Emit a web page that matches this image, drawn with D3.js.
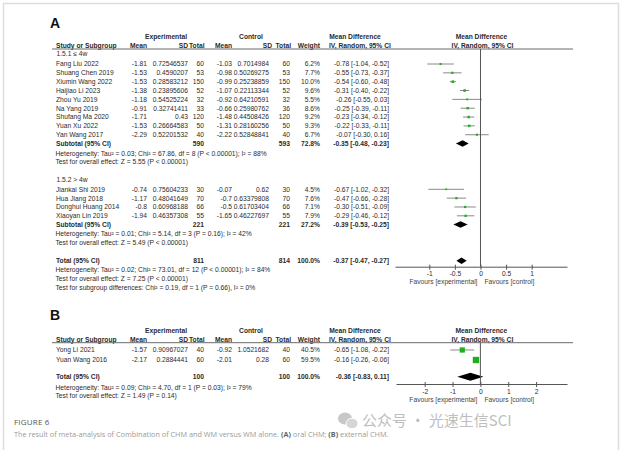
<!DOCTYPE html>
<html><head><meta charset="utf-8">
<script src="https://cdn.jsdelivr.net/npm/d3@7"></script>
<style>
html,body{margin:0;padding:0;background:#fff;}
svg{display:block;}
</style></head><body>
<svg id="chart" width="622" height="450"></svg>
<script>
// ---------- DATA ----------
// Panel A, subgroup 1.5.1
const a1Names = ["Fang Liu 2022","Shuang Chen 2019","Xiumin Wang 2022","Haijiao Li 2023","Zhou Yu 2019","Na Yang 2019","Shufang Ma 2020","Yuan Xu 2022","Yan Wang 2017"];
const a1ExpMean = [-1.81,-1.53,-1.53,-1.38,-1.18,-0.91,-1.71,-1.53,-2.29];
const a1ExpSD = [0.72546537,0.4590207,0.28583212,0.23895606,0.54525224,0.32741411,0.43,0.26664583,0.52201532];
const a1ExpN = [60,53,150,52,32,33,120,50,40];
const a1CtrlMean = [-1.03,-0.98,-0.99,-1.07,-0.92,-0.66,-1.48,-1.31,-2.22];
const a1CtrlSD = [0.7014984,0.50269275,0.25238859,0.22113344,0.64210591,0.25980762,0.44508426,0.28160256,0.52848841];
const a1CtrlN = [60,53,150,52,32,36,120,50,40];
const a1Weight = [6.2,7.7,10.0,9.6,5.5,8.6,9.2,9.3,6.7];
const a1MD = [-0.78,-0.55,-0.54,-0.31,-0.26,-0.25,-0.23,-0.22,-0.07];
const a1Lo = [-1.04,-0.73,-0.60,-0.40,-0.55,-0.39,-0.34,-0.33,-0.30];
const a1Hi = [-0.52,-0.37,-0.48,-0.22,0.03,-0.11,-0.12,-0.11,0.16];
// Panel A, subgroup 1.5.2
const a2Names = ["Jiankai Shi 2019","Hua Jiang 2018","Donghui Huang 2014","Xiaoyan Lin 2019"];
const a2ExpMean = [-0.74,-1.17,-0.8,-1.94];
const a2ExpSD = [0.75604233,0.48041649,0.60968188,0.46357308];
const a2ExpN = [30,70,66,55];
const a2CtrlMean = [-0.07,-0.7,-0.5,-1.65];
const a2CtrlSD = [0.62,0.63379808,0.61703404,0.46227697];
const a2CtrlN = [30,70,66,55];
const a2Weight = [4.5,7.6,7.1,7.9];
const a2MD = [-0.67,-0.47,-0.30,-0.29];
const a2Lo = [-1.02,-0.66,-0.51,-0.46];
const a2Hi = [-0.32,-0.28,-0.09,-0.12];
// Panel A subgroup summaries
const aSubLabels = ["1.5.1 \u2264 4w","1.5.2 > 4w"];
const aSubExpN = [590,221];
const aSubCtrlN = [593,221];
const aSubWeight = [72.8,27.2];
const aSubMD = [-0.35,-0.39];
const aSubLo = [-0.48,-0.53];
const aSubHi = [-0.23,-0.25];
const aSubHet = ["Heterogeneity: Tau\u00b2 = 0.03; Chi\u00b2 = 67.86, df = 8 (P < 0.00001); I\u00b2 = 88%",
                 "Heterogeneity: Tau\u00b2 = 0.01; Chi\u00b2 = 5.14, df = 3 (P = 0.16); I\u00b2 = 42%"];
const aSubTest = ["Test for overall effect: Z = 5.55 (P < 0.00001)","Test for overall effect: Z = 5.49 (P < 0.00001)"];
// Panel A total
const aTotal = [811,814,100.0,-0.37,-0.47,-0.27];
const aTotalNotes = ["Heterogeneity: Tau\u00b2 = 0.02; Chi\u00b2 = 73.01, df = 12 (P < 0.00001); I\u00b2 = 84%",
                     "Test for overall effect: Z = 7.25 (P < 0.00001)",
                     "Test for subgroup differences: Chi\u00b2 = 0.19, df = 1 (P = 0.66), I\u00b2 = 0%"];
const aTicks = [-1,-0.5,0,0.5,1];
// Panel B
const bNames = ["Yong Li 2021","Yuan Wang 2016"];
const bExpMean = [-1.57,-2.17];
const bExpSD = [0.90967027,0.2884441];
const bExpN = [40,60];
const bCtrlMean = [-0.92,-2.01];
const bCtrlSD = [1.0521682,0.28];
const bCtrlN = [40,60];
const bWeight = [40.5,59.5];
const bMD = [-0.65,-0.16];
const bLo = [-1.08,-0.26];
const bHi = [-0.22,-0.06];
const bTotal = [100,100,100.0,-0.36,-0.83,0.11];
const bTotalNotes = ["Heterogeneity: Tau\u00b2 = 0.09; Chi\u00b2 = 4.70, df = 1 (P = 0.03); I\u00b2 = 79%",
                     "Test for overall effect: Z = 1.49 (P = 0.14)"];
const bTicks = [-2,-1,0,1,2];

// ---------- DRAWING ----------
const svg = d3.select("#chart");
const FONT = "'Liberation Sans', Arial, sans-serif";
const FS = 6.7, BL = 2.4;
const INK = "#2a2a2a", GREEN = "#1fae1f", CILINE = "#8a8a8a", AXIS = "#555";
const col = {name:56, eMean:147, eSD:188, eN:204, cMean:232, cSD:269, cN:290, w:320, ci:389};

svg.append("rect").attr("x",3.5).attr("y",3.5).attr("width",615).attr("height",470)
  .attr("fill","#fff").attr("stroke","#dedede").attr("stroke-width",1.5);

function txt(g, x, y, s, o = {}) {
  return g.append("text").attr("x", x).attr("y", y).text(s)
    .attr("font-family", o.family || FONT)
    .attr("font-size", o.size || FS)
    .attr("font-weight", o.bold ? "bold" : "normal")
    .attr("text-anchor", o.anchor || "start")
    .attr("fill", o.fill || INK);
}
const ciText = (m, l, h) => `${m.toFixed(2)} [${l.toFixed(2)}, ${h.toFixed(2)}]`;
const boxSide = d3.scaleSqrt().domain([0, 100]).range([0, 8.2]);

function header(g, letter, letterBase, h1, lineY, x) {
  txt(g, 50, letterBase, letter, {size: 14, bold: true, fill: "#111"});
  const y1 = h1 + BL, b = lineY - 1.2;
  txt(g, 166, y1, "Experimental", {bold: true, anchor: "middle"});
  txt(g, 251, y1, "Control", {bold: true, anchor: "middle"});
  txt(g, 355, y1, "Mean Difference", {bold: true, anchor: "middle"});
  txt(g, x(0) + 1, y1, "Mean Difference", {bold: true, anchor: "middle"});
  txt(g, col.name, b, "Study or Subgroup", {bold: true});
  txt(g, col.eMean, b, "Mean", {bold: true, anchor: "end"});
  txt(g, col.eSD, b, "SD", {bold: true, anchor: "end"});
  txt(g, col.eN + 0.5, b, "Total", {bold: true, anchor: "end"});
  txt(g, col.cMean, b, "Mean", {bold: true, anchor: "end"});
  txt(g, 272, b, "SD", {bold: true, anchor: "end"});
  txt(g, col.cN + 1, b, "Total", {bold: true, anchor: "end"});
  txt(g, col.w, b, "Weight", {bold: true, anchor: "end"});
  txt(g, 329, b, "IV, Random, 95% CI", {bold: true});
  txt(g, x(0) + 2, b, "IV, Random, 95% CI", {bold: true, anchor: "middle"});
  g.append("line").attr("x1", 52).attr("x2", 573).attr("y1", lineY).attr("y2", lineY)
    .attr("stroke", "#6a6a6a").attr("stroke-width", 1);
}

function studies(g, x, ys, names, em, es, en, cm, cs, cn, w, md, lo, hi) {
  names.forEach((n, i) => {
    const y = ys[i], b = y + BL;
    txt(g, col.name, b, n);
    txt(g, col.eMean, b, String(em[i]), {anchor: "end"});
    txt(g, col.eSD, b, String(es[i]), {anchor: "end"});
    txt(g, col.eN, b, String(en[i]), {anchor: "end"});
    txt(g, col.cMean, b, String(cm[i]), {anchor: "end"});
    txt(g, col.cSD, b, String(cs[i]), {anchor: "end"});
    txt(g, col.cN, b, String(cn[i]), {anchor: "end"});
    txt(g, col.w, b, w[i].toFixed(1) + "%", {anchor: "end"});
    txt(g, col.ci, b, ciText(md[i], lo[i], hi[i]), {anchor: "end"});
    g.append("line").attr("x1", x(lo[i])).attr("x2", x(hi[i])).attr("y1", y).attr("y2", y)
      .attr("stroke", CILINE).attr("stroke-width", 1);
    const s = boxSide(w[i]);
    g.append("rect").attr("x", x(md[i]) - s / 2).attr("y", y - s / 2).attr("width", s).attr("height", s)
      .attr("fill", GREEN);
  });
}

function summary(g, x, y, label, en, cn, w, md, lo, hi, h) {
  const b = y + BL;
  txt(g, col.name, b, label, {bold: true});
  txt(g, col.eN, b, String(en), {bold: true, anchor: "end"});
  txt(g, col.cN, b, String(cn), {bold: true, anchor: "end"});
  txt(g, col.w, b, w.toFixed(1) + "%", {bold: true, anchor: "end"});
  txt(g, col.ci, b, ciText(md, lo, hi), {bold: true, anchor: "end"});
  g.append("polygon")
    .attr("points", [[x(lo), y], [x(md), y - h / 2], [x(hi), y], [x(md), y + h / 2]].map(p => p.join(",")).join(" "))
    .attr("fill", "#000");
}

function axis(g, x, axisY, ticks, lineY, favY) {
  g.append("line").attr("x1", x(0)).attr("x2", x(0)).attr("y1", lineY).attr("y2", axisY)
    .attr("stroke", AXIS).attr("stroke-width", 1);
  const ax = g.append("g").attr("transform", `translate(0,${axisY})`)
    .call(d3.axisBottom(x).tickValues(ticks).tickSize(3).tickSizeOuter(0).tickPadding(2)
      .tickFormat(d => String(d)));
  ax.select(".domain").attr("stroke", AXIS);
  ax.selectAll(".tick line").attr("y1", -2).attr("stroke", AXIS);
  ax.selectAll(".tick text").attr("font-family", FONT).attr("font-size", FS).attr("fill", INK);
  txt(g, x(0) - 3, favY + BL, "Favours [experimental]", {anchor: "end", fill: "#444"});
  txt(g, x(0) + 4, favY + BL, "Favours [control]", {fill: "#444"});
}

// ----- Panel A -----
const gA = svg.append("g");
const xA = d3.scaleLinear().domain([-1.67, 1.69]).range([395, 567]);
header(gA, "A", 28.3, 36.7, 49, xA);
const step = 8.84;
txt(gA, 56.5, 53.5 + BL, aSubLabels[0], {family: "'Liberation Sans','Noto Sans CJK SC',sans-serif"});
studies(gA, xA, a1Names.map((_, i) => 64 + i * step), a1Names, a1ExpMean, a1ExpSD, a1ExpN, a1CtrlMean, a1CtrlSD, a1CtrlN, a1Weight, a1MD, a1Lo, a1Hi);
summary(gA, xA, 143.5, "Subtotal (95% CI)", aSubExpN[0], aSubCtrlN[0], aSubWeight[0], aSubMD[0], aSubLo[0], aSubHi[0], 6.5);
txt(gA, 55.5, 153.3 + BL, aSubHet[0]);
txt(gA, 55.5, 161.9 + BL, aSubTest[0]);
txt(gA, 56.5, 179.3 + BL, aSubLabels[1]);
studies(gA, xA, a2Names.map((_, i) => 189.3 + i * step), a2Names, a2ExpMean, a2ExpSD, a2ExpN, a2CtrlMean, a2CtrlSD, a2CtrlN, a2Weight, a2MD, a2Lo, a2Hi);
summary(gA, xA, 224.5, "Subtotal (95% CI)", aSubExpN[1], aSubCtrlN[1], aSubWeight[1], aSubMD[1], aSubLo[1], aSubHi[1], 6.5);
txt(gA, 55.5, 233.5 + BL, aSubHet[1]);
txt(gA, 55.5, 242.4 + BL, aSubTest[1]);
summary(gA, xA, 260.7, "Total (95% CI)", aTotal[0], aTotal[1], aTotal[2], aTotal[3], aTotal[4], aTotal[5], 6.5);
aTotalNotes.forEach((t, i) => txt(gA, 55.5, 270 + i * 8.85 + BL, t));
axis(gA, xA, 266.7, aTicks, 49, 281.7);

// ----- Panel B -----
const gB = svg.append("g");
const xB = d3.scaleLinear().domain([-3.03, 3.11]).range([396, 567]);
header(gB, "B", 320.3, 330.7, 342.7, xB);
studies(gB, xB, [350, 360], bNames, bExpMean, bExpSD, bExpN, bCtrlMean, bCtrlSD, bCtrlN, bWeight, bMD, bLo, bHi);
summary(gB, xB, 376.7, "Total (95% CI)", bTotal[0], bTotal[1], bTotal[2], bTotal[3], bTotal[4], bTotal[5], 8);
bTotalNotes.forEach((t, i) => txt(gB, 55.5, 387.3 + i * 8.7 + BL, t));
axis(gB, xB, 384, bTicks, 342.7, 399.3);

// ----- Caption -----
const CAP = "'Open Sans', 'Noto Sans', sans-serif";
txt(svg, 14, 424.7, "FIGURE 6", {family: CAP, size: 8, fill: "#555"}).attr("letter-spacing", 0.2);
const cap = svg.append("text").attr("x", 14).attr("y", 437.2).attr("font-family", CAP)
  .attr("font-size", 7.3).attr("fill", "#9a9a9a");
cap.append("tspan").text("The result of meta-analysis of Combination of CHM and WM versus WM alone. ");
cap.append("tspan").text("(A)").attr("font-weight", "bold").attr("fill", "#666");
cap.append("tspan").text(" oral CHM; ");
cap.append("tspan").text("(B)").attr("font-weight", "bold").attr("fill", "#666");
cap.append("tspan").text(" external CHM.");

// ----- Watermark -----
const wm = svg.append("g").attr("opacity", 0.55);
wm.append("ellipse").attr("cx", 345).attr("cy", 418.5).attr("rx", 7).attr("ry", 6).attr("fill", "#9a9a9a");
wm.append("ellipse").attr("cx", 352).attr("cy", 423.5).attr("rx", 6).attr("ry", 5.2).attr("fill", "#b5b5b5").attr("stroke", "#fff").attr("stroke-width", 1);
txt(wm, 362, 426, "\u516c\u4f17\u53f7 \u00b7 \u5149\u901f\u751f\u4fe1SCI", {family: "'Noto Sans CJK SC', sans-serif", size: 15, fill: "#8a8a8a"});
</script>
</body></html>
